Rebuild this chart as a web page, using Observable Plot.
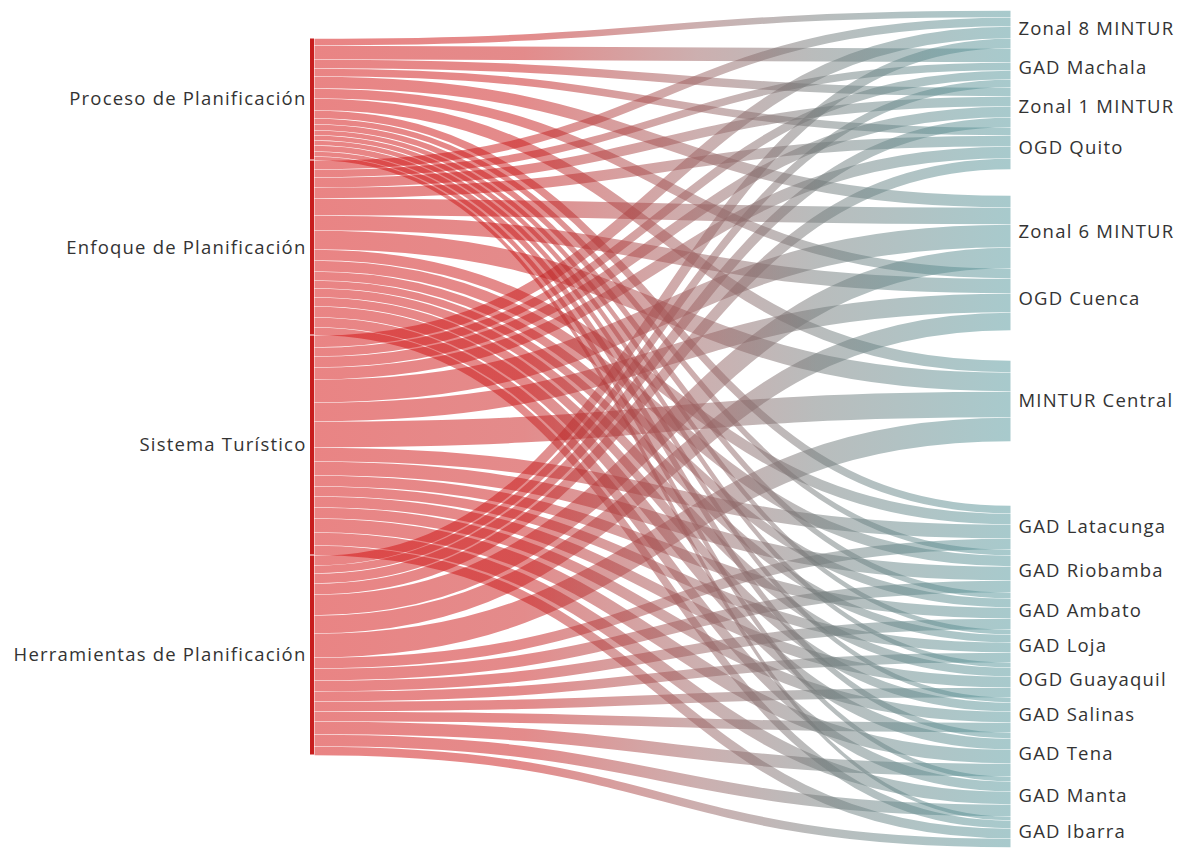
<!DOCTYPE html>
<html>
<head>
<meta charset="utf-8">
<script src="https://cdn.jsdelivr.net/npm/d3@7"></script>
<script src="https://cdn.jsdelivr.net/npm/@observablehq/plot@0.6"></script>
<style>
  html, body { margin: 0; padding: 0; background: #fff; }
  #chart svg { display: block; }
  #chart text { letter-spacing: 1.2px; }
</style>
</head>
<body>
<div id="chart"></div>
<script>
// ---- Data ----
const sources = ["Proceso de Planificación", "Enfoque de Planificación", "Sistema Turístico", "Herramientas de Planificación"];
const targets = ["Zonal 8 MINTUR", "GAD Machala", "Zonal 1 MINTUR", "OGD Quito", "Zonal 6 MINTUR", "OGD Cuenca",
  "MINTUR Central", "GAD Latacunga", "GAD Riobamba", "GAD Ambato", "GAD Loja", "OGD Guayaquil", "GAD Salinas",
  "GAD Tena", "GAD Manta", "GAD Ibarra"];
// flow values from each source to each target (same order as targets)
const proceso      = [7, 14, 9, 8, 12, 10, 12, 8, 6, 6, 5, 5, 5, 6, 5, 4];
const enfoque      = [9, 8, 10, 11, 17, 15, 19, 11, 11, 9, 8, 9, 9, 11, 10, 8];
const sistema      = [12, 9, 11, 12, 23, 19, 26, 14, 14, 11, 10, 11, 11, 14, 13, 10];
const herramientas = [10, 8, 10, 11, 21, 18, 24, 11, 12, 11, 10, 10, 10, 13, 12, 9];

// ---- Layout constants ----
const leftOffset = 28;                       // left column starts lower
const gapBefore = {"Zonal 6 MINTUR": 26, "MINTUR Central": 30, "GAD Latacunga": 64};
const W = 1189, H = 857;

const matrix = [proceso, enfoque, sistema, herramientas];

let cy = leftOffset;
const srcNodes = sources.map((name, i) => {
  const v = d3.sum(matrix[i]);
  const n = {name, y0: cy, y1: cy + v, ym: cy + v / 2};
  cy += v;
  return n;
});
let ty = 0;
const tgtNodes = targets.map((name, j) => {
  ty += gapBefore[name] || 0;
  const v = d3.sum(matrix, r => r[j]);
  const n = {name, y0: ty, y1: ty + v, ym: ty + v / 2};
  ty += v;
  return n;
});
const yMax = Math.max(ty, cy);

const srcCursor = srcNodes.map(n => n.y0);
const tgtCursor = tgtNodes.map(n => n.y0);
const links = [];
sources.forEach((s, i) => {
  targets.forEach((t, j) => {
    const v = matrix[i][j];
    links.push({source: s, target: t, value: v, sy: srcCursor[i] + v / 2, ty: tgtCursor[j] + v / 2});
    srcCursor[i] += v;
    tgtCursor[j] += v;
  });
});

const yRange = [10, 10 + yMax];
const k = (yRange[1] - yRange[0]) / yMax;   // pixels per unit

const plot = Plot.plot({
  width: W,
  height: H,
  margin: 0,
  style: {fontFamily: "'Open Sans', 'Noto Sans', sans-serif", background: "#fff"},
  x: {domain: [0, 1], range: [314, 1010], axis: null},
  y: {domain: [0, yMax], range: yRange, axis: null},
  marks: [
    Plot.link(links, {
      x1: 0, x2: 1, y1: "sy", y2: "ty",
      curve: "bump-x",
      stroke: "url(#linkGrad)",
      strokeOpacity: 0.5,
      strokeWidth: d => Math.max(1, d.value * k - 0.5)
    }),
    Plot.rect(srcNodes, {x1: 0, x2: 0, y1: "y0", y2: "y1", insetLeft: -4, insetTop: 0.5, insetBottom: 0.5, fill: "#c81e1e"}),
    Plot.text(srcNodes, {x: 0, y: "ym", text: "name", textAnchor: "end", dx: -8, fontSize: 18.5, fill: "#333"}),
    Plot.text(tgtNodes, {x: 1, y: "ym", text: "name", textAnchor: "start", dx: 8, fontSize: 18.5, fill: "#333"})
  ]
});

const xs = plot.scale("x");
const svg = d3.select(plot);
const defs = svg.insert("defs", ":first-child");
const grad = defs.append("linearGradient")
  .attr("id", "linkGrad")
  .attr("gradientUnits", "userSpaceOnUse")
  .attr("x1", xs.apply(0)).attr("x2", xs.apply(1))
  .attr("y1", 0).attr("y2", 0);
[[0, "#d40a0a"], [0.3, "#c81818"], [0.55, "#9a6060"], [0.72, "#747a7a"], [1, "#51959a"]].forEach(([o, c]) =>
  grad.append("stop").attr("offset", o).attr("stop-color", c));

document.getElementById("chart").appendChild(plot);
</script>
</body>
</html>
